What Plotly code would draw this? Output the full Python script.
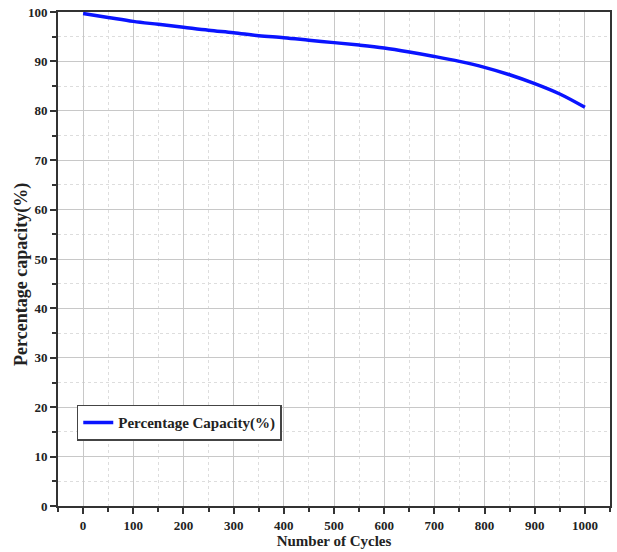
import plotly.graph_objects as go

cycles = [0, 50, 100, 150, 200, 250, 300, 350, 400, 450, 500,
          550, 600, 650, 700, 750, 800, 850, 900, 950, 1000]
capacity = [99.7, 98.9, 98.1, 97.5, 96.9, 96.3, 95.8, 95.2, 94.8, 94.3, 93.8,
            93.3, 92.7, 91.9, 91.0, 90.0, 88.8, 87.3, 85.5, 83.4, 80.7]
x_ticks = [0, 100, 200, 300, 400, 500, 600, 700, 800, 900, 1000]
y_ticks = [0, 10, 20, 30, 40, 50, 60, 70, 80, 90, 100]

font_family = "Liberation Serif"

fig = go.Figure()
fig.add_trace(go.Scatter(
    x=cycles, y=capacity, mode="lines",
    line=dict(color="#0a14ff", width=3.5, shape="spline"),
    name="Percentage Capacity(%)",
))

axis_common = dict(
    showline=True, linecolor="#333333", linewidth=2, mirror=True,
    ticks="outside", ticklen=6, tickwidth=2, tickcolor="#333333",
    showgrid=True, gridcolor="#c8c8c8", gridwidth=1.3,
    zeroline=False,
    tickfont=dict(family=font_family, size=13, color="#222222", weight="bold"),
)

fig.update_xaxes(
    range=[-50, 1050], tickvals=x_ticks,
    minor=dict(dtick=50, tick0=0, ticks="outside", ticklen=4, tickwidth=2,
               tickcolor="#333333", showgrid=True, gridcolor="#dddddd",
               griddash="dot", gridwidth=1),
    title=dict(text="Number of Cycles", standoff=1,
               font=dict(family=font_family, size=15, color="#222222", weight="bold")),
    **axis_common,
)
fig.update_yaxes(
    range=[0, 100], tickvals=y_ticks,
    minor=dict(dtick=5, tick0=0, ticks="outside", ticklen=4, tickwidth=2,
               tickcolor="#333333", showgrid=True, gridcolor="#dddddd",
               griddash="dot", gridwidth=1),
    **axis_common,
)

fig.add_annotation(
    text="Percentage capacity(%)", textangle=-90,
    xref="paper", yref="paper", x=-0.065, y=0.468,
    xanchor="center", yanchor="middle", showarrow=False,
    font=dict(family=font_family, size=18, color="#222222", weight="bold"),
)

fig.update_layout(
    width=617, height=552,
    margin=dict(l=58, r=5, t=10, b=46),
    plot_bgcolor="white", paper_bgcolor="white",
    showlegend=True,
    legend=dict(
        x=0.034, y=0.205, xanchor="left", yanchor="top",
        bgcolor="white", bordercolor="#444444", borderwidth=1.5,
        font=dict(family=font_family, size=15, color="#222222", weight="bold"),
        itemwidth=30, tracegroupgap=0,
    ),
)

fig.write_html("out.html")
